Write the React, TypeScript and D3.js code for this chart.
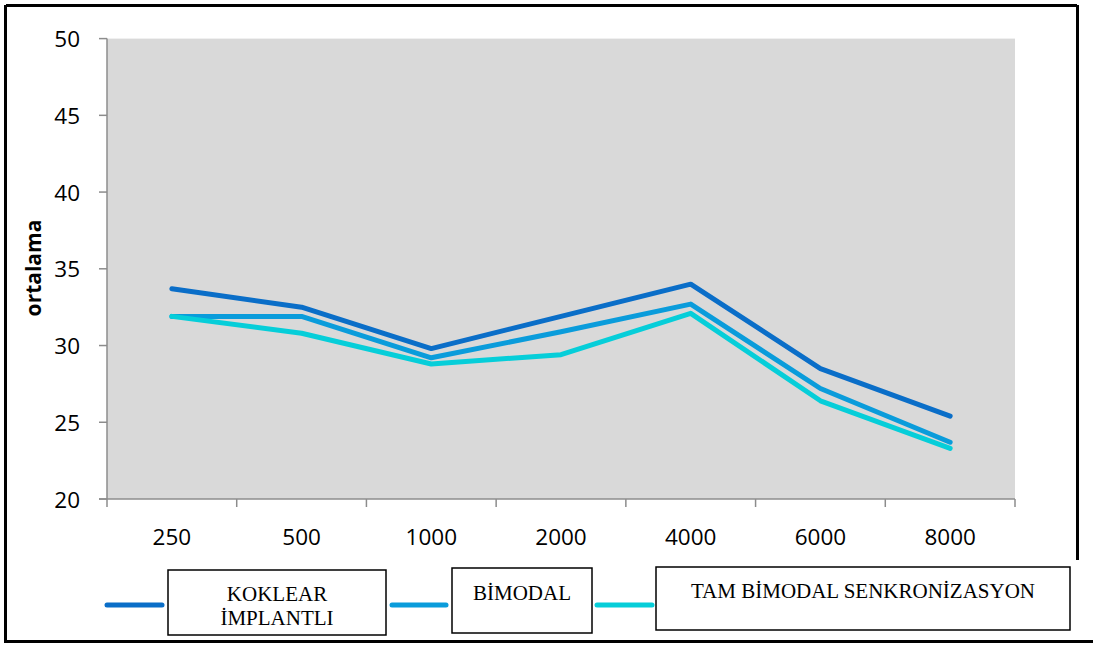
import React from "react";
import * as d3 from "d3";

const categories = ["250", "500", "1000", "2000", "4000", "6000", "8000"];
const koklear = [33.7, 32.5, 29.8, 31.9, 34.0, 28.5, 25.4];
const bimodal = [31.9, 31.9, 29.2, 30.9, 32.7, 27.2, 23.7];
const tamBimodal = [31.9, 30.8, 28.8, 29.4, 32.1, 26.4, 23.3];
const yTicks = [20, 25, 30, 35, 40, 45, 50];

const seriesList = [
  { name: ["KOKLEAR", "İMPLANTLI"], values: koklear, color: "#0A6EC8" },
  { name: ["BİMODAL"], values: bimodal, color: "#0A9CDB" },
  { name: ["TAM BİMODAL SENKRONİZASYON"], values: tamBimodal, color: "#06CED9" },
];

export default function App() {
  const W = 1093, H = 646;
  const left = 107, right = 1015, top = 38.6, bottom = 499;
  const x = d3.scaleBand<string>().domain(categories).range([left, right]);
  const y = d3.scaleLinear().domain([20, 50]).range([bottom, top]);
  const cx = (c: string) => (x(c) as number) + x.bandwidth() / 2;
  const line = d3
    .line<number>()
    .x((_, i) => cx(categories[i]))
    .y((v) => y(v));
  const boundaries = categories.map((c) => x(c) as number).concat([right]);

  const legend = [
    { lx1: 107, lx2: 162, bx: 168, by: 570, bw: 218, bh: 65, tx: 277, ty: [601, 625] },
    { lx1: 392, lx2: 446, bx: 452, by: 568, bw: 140, bh: 65, tx: 522, ty: [600] },
    { lx1: 597, lx2: 652, bx: 656, by: 567, bw: 414, bh: 63, tx: 863, ty: [598] },
  ];

  return (
    <svg width={W} height={H} style={{ position: "absolute", left: 0, top: 0 }}>
      <rect x={0} y={0} width={W} height={H} fill="#fff" />
      {/* outer border */}
      <line x1={6} y1={5.5} x2={1077} y2={5.5} stroke="#000" strokeWidth={3} />
      <line x1={5.5} y1={5} x2={5.5} y2={643} stroke="#000" strokeWidth={3} />
      <line x1={1077.5} y1={5} x2={1077.5} y2={560} stroke="#000" strokeWidth={3} />
      <line x1={5} y1={641.5} x2={W} y2={641.5} stroke="#000" strokeWidth={3} />

      <rect x={left} y={top} width={right - left} height={bottom - top} fill="#D9D9D9" />

      {/* y axis */}
      <line x1={left} y1={top} x2={left} y2={bottom} stroke="#8C8C8C" strokeWidth={1.5} />
      {yTicks.map((t) => (
        <g key={t}>
          <line x1={99} x2={left} y1={y(t)} y2={y(t)} stroke="#8C8C8C" strokeWidth={1.5} />
          <text
            x={80}
            y={y(t)}
            textAnchor="end"
            dominantBaseline="central"
            fontFamily="Open Sans"
            fontSize={22.5}
            fill="#000"
          >
            {t}
          </text>
        </g>
      ))}
      {/* x axis */}
      <line x1={99} y1={bottom} x2={right} y2={bottom} stroke="#8C8C8C" strokeWidth={1.5} />
      {boundaries.map((b, i) => (
        <line key={i} x1={b} x2={b} y1={bottom} y2={507} stroke="#8C8C8C" strokeWidth={1.5} />
      ))}
      {categories.map((c) => (
        <text
          key={c}
          x={cx(c)}
          y={545}
          textAnchor="middle"
          fontFamily="Open Sans"
          fontSize={22.5}
          fill="#000"
        >
          {c}
        </text>
      ))}
      <text
        transform={`translate(41,268) rotate(-90)`}
        textAnchor="middle"
        fontFamily="Open Sans"
        fontWeight="bold"
        fontSize={21}
        fill="#000"
      >
        ortalama
      </text>

      {/* lines */}
      {seriesList.map((s, i) => (
        <path
          key={i}
          d={line(s.values) as string}
          fill="none"
          stroke={s.color}
          strokeWidth={5}
          strokeLinecap="round"
          strokeLinejoin="round"
        />
      ))}

      {/* legend */}
      {seriesList.map((s, i) => {
        const L = legend[i];
        return (
          <g key={i}>
            <line
              x1={L.lx1}
              x2={L.lx2}
              y1={605}
              y2={605}
              stroke={s.color}
              strokeWidth={5}
              strokeLinecap="round"
            />
            <rect x={L.bx} y={L.by} width={L.bw} height={L.bh} fill="#fff" stroke="#000" strokeWidth={1.5} />
            {s.name.map((n, j) => (
              <text
                key={j}
                x={L.tx}
                y={L.ty[j]}
                textAnchor="middle"
                fontFamily="Liberation Serif"
                fontSize={21}
                fill="#000"
              >
                {n}
              </text>
            ))}
          </g>
        );
      })}
    </svg>
  );
}
